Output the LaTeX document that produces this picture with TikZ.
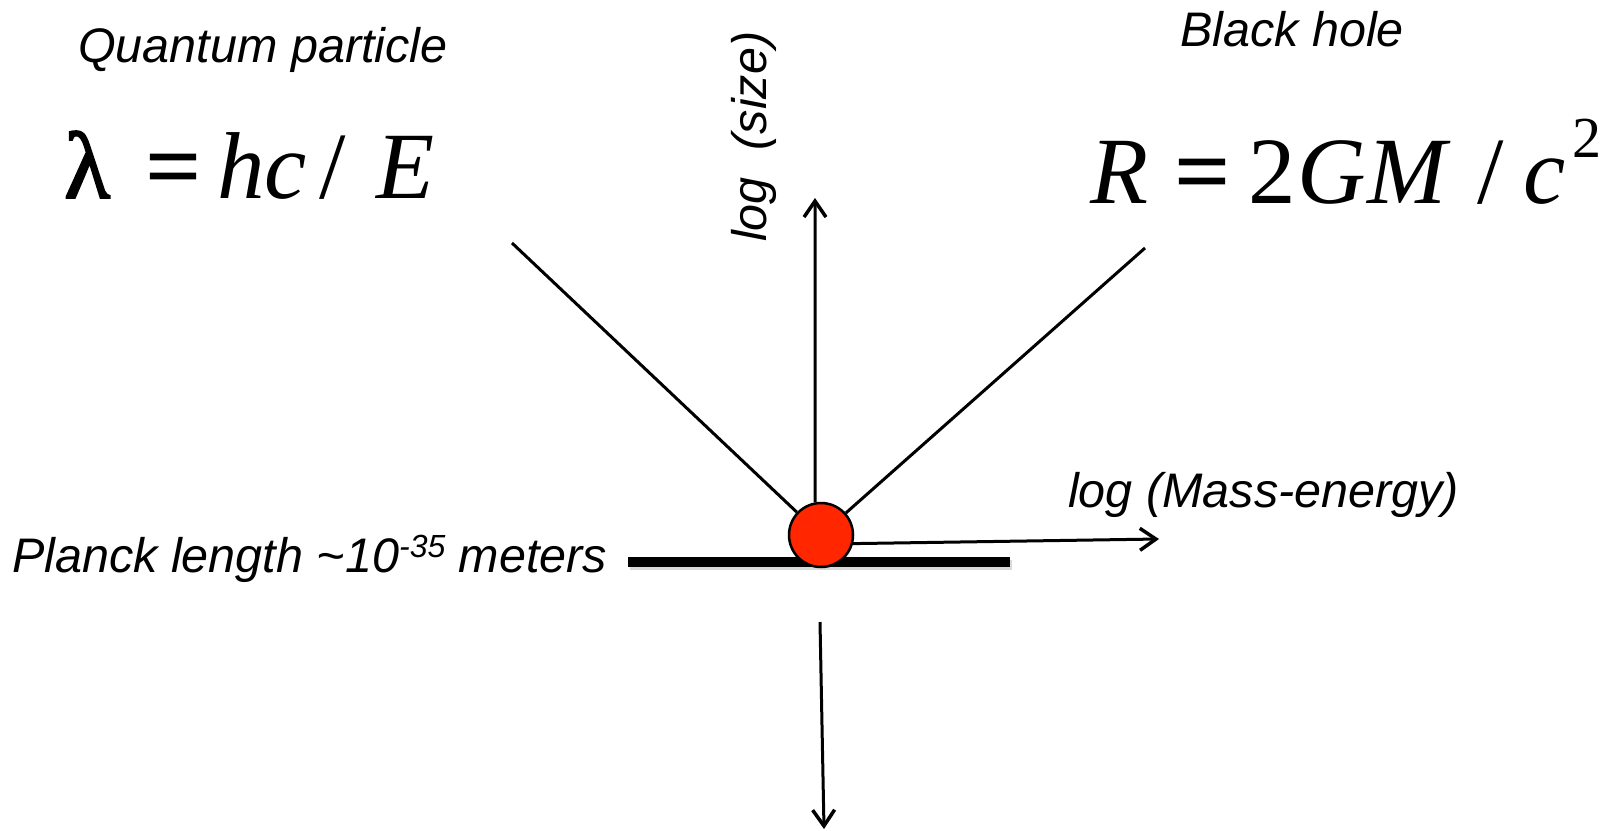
\documentclass[tikz,border=0pt]{standalone}
\usepackage{fontspec}
\setmainfont{Liberation Sans}
\newfontfamily\serifeq{Liberation Serif}
\newfontfamily\serifbold[FakeBold=2]{Liberation Serif}
\usetikzlibrary{arrows.meta}
\definecolor{ballred}{HTML}{FF2600}
\begin{document}
\begin{tikzpicture}[x=1pt,y=-1pt,
  lbl/.style={font=\fontsize{48.5}{58}\selectfont\itshape, inner sep=0pt, anchor=base west},
  eqn/.style={font=\serifeq\fontsize{95}{110}\selectfont, inner sep=0pt, anchor=base west},
  ln/.style={line width=3pt},
  arr/.style={ln, -{Straight Barb[length=16pt,width=22pt,line width=3.5pt]}}]
\useasboundingbox (0,0) rectangle (1616,830);

% texts
\node[lbl] (qp) at (78,62) {Quantum particle};
\node[lbl] (bh) at (1180,46) {Black hole};
\node[lbl] (me) at (1068,507) {log (Mass-energy)};
\node[lbl] (pl) at (12,572) {Planck length \textasciitilde 10\raisebox{15pt}{\fontsize{32}{32}\selectfont -35} meters};
\node[lbl, rotate=90] (ls) at (766,242) {log\ \ (size)};

% equations
\node[eqn] (lam) at (64,198) {\makebox[82pt][l]{\serifbold λ}\makebox[71pt][l]{\serifbold =}\makebox[102pt][l]{\itshape hc}\makebox[57pt][l]{/}{\itshape E}};
\node[eqn] (bhr) at (1090,203) {\makebox[85pt][l]{\itshape R}\makebox[73pt][l]{\serifbold =}\makebox[49pt][l]{2}\makebox[70pt][l]{\itshape G}\makebox[110pt][l]{\itshape M}\makebox[46pt][l]{/}\makebox[49pt][l]{\itshape c}\raisebox{46pt}{\fontsize{58}{58}\selectfont 2}};

% bar with faint shadow
\node[fill=black!15, minimum width=382pt, minimum height=10pt, inner sep=0pt] (barshadow) at (821,565) {};
\node[fill=black, minimum width=382pt, minimum height=10pt, inner sep=0pt] (bar) at (819,562) {};

% particle
\node[circle, draw, line width=2.5pt, fill=ballred, minimum size=64pt, inner sep=0pt] (c) at (821,535) {};

% free ends
\coordinate (qend) at (512,243);
\coordinate (bend) at (1145,248);
\coordinate (uptip) at (815,198);
\coordinate (rtip) at (1159,539);
\coordinate (dtop) at (820,622);
\coordinate (dtip) at (824,829);

\draw[ln] (qend) -- (c);
\draw[ln] (bend) -- (c);
\draw[arr] (c.100) -- (uptip);
\draw[arr] (c.-15) -- (rtip);
\draw[arr] (dtop) -- (dtip);
\end{tikzpicture}
\end{document}
